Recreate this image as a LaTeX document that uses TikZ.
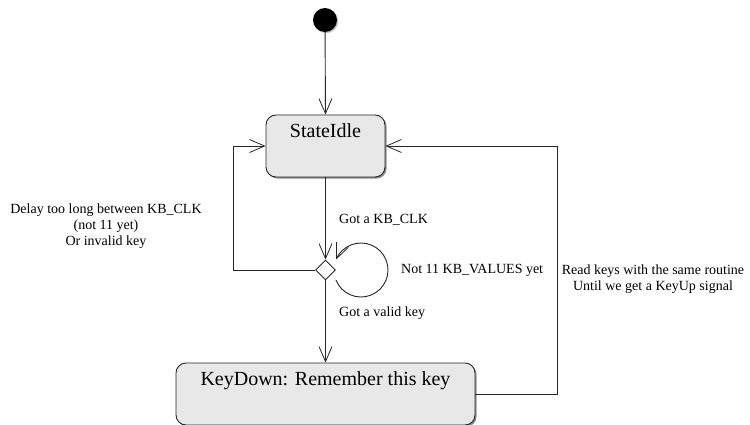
\documentclass[tikz,border=0pt]{standalone}
\usepackage{fontspec}
\setmainfont{Liberation Serif}
\usetikzlibrary{arrows.meta,shapes.geometric,shadows}

\tikzset{
  line/.style={draw=black!85, line width=0.9pt},
  arr/.style={line, -{Straight Barb[length=15pt,width=13pt,line width=0.8pt]}},
  statebox/.style={draw=black!85, line width=0.9pt, fill=black!9, rounded corners=10pt,
    inner sep=0pt,
    drop shadow={shadow xshift=1.6pt, shadow yshift=-1.6pt, fill=black!55, opacity=0.8}},
  statename/.style={font=\fontsize{20}{24}\selectfont, inner sep=0pt, anchor=north, yshift=-9pt},
  guard/.style={font=\fontsize{14}{16}\selectfont, inner sep=0pt, align=center},
  choice/.style={diamond, draw=black!85, line width=0.9pt, fill=white, inner sep=0pt,
    minimum width=20pt, minimum height=20pt},
}

\begin{document}
\begin{tikzpicture}[x=1pt, y=-1pt]
  \useasboundingbox (0,0) rectangle (750,425);

  % initial pseudo-state
  \node[circle, fill=black, inner sep=0pt, minimum size=24pt,
        drop shadow={shadow xshift=1.2pt, shadow yshift=-1.2pt, fill=black!40, opacity=0.6}]
        (init) at (325,20) {};

  % states
  \node[statebox, minimum width=119pt, minimum height=62pt] (idle) at (325.5,146) {};
  \node[statename] at (idle.north) {StateIdle};

  \node[statebox, minimum width=299pt, minimum height=62pt] (down) at (325.5,394) {};
  \node[statename] at (down.north) {KeyDown: Remember this key};

  % choice point
  \node[choice] (dec) at (325.5,270) {};

  % corners of the outer loops and centre of the self loop
  \coordinate (lcorner) at (233,270);
  \coordinate (rcorner) at (557,394);
  \coordinate (loopc) at (361,270);

  % transitions
  \draw[arr] (init) -- (idle.north);
  \draw[arr] (idle.south) -- (dec.north);
  \draw[arr] (dec.south) -- (down.north);
  \draw[arr] (dec.west) -- (lcorner) |- (idle.west);
  \draw[arr] (down.east) -- (rcorner) |- (idle.east);
  \draw[arr] ([shift={(158:27)}]loopc) arc[start angle=158, end angle=-157, radius=27];

  % guard labels
  \node[guard] (lbl1) at (106,226) {Delay too long between KB\_CLK\\(not 11 yet)\\Or invalid key};
  \node[guard, anchor=west] (lbl2) at (339,220) {Got a KB\_CLK};
  \node[guard, anchor=west] (lbl3) at (401,270) {Not 11 KB\_VALUES yet};
  \node[guard, anchor=west] (lbl4) at (339,313) {Got a valid key};
  \node[guard] (lbl5) at (653,279) {Read keys with the same routine\\Until we get a KeyUp signal};
\end{tikzpicture}
\end{document}
